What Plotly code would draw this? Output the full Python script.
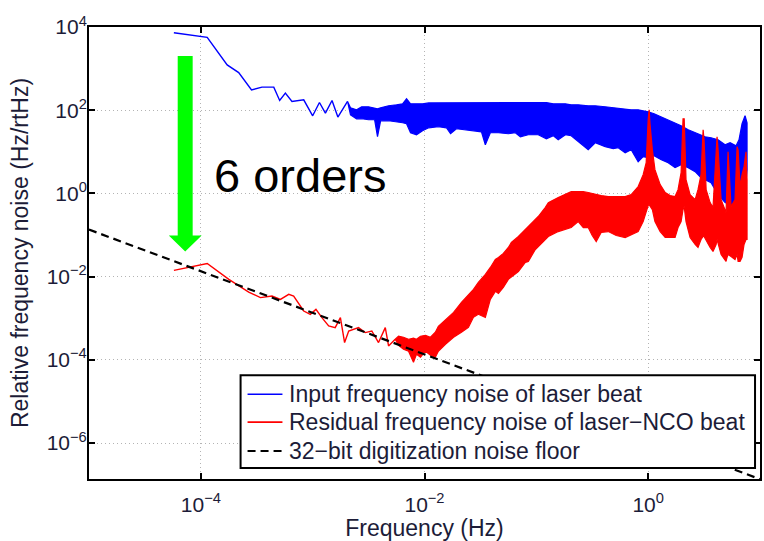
import plotly.graph_objects as go

# ---------------- data (frequency in Hz, noise in Hz/rtHz) ----------------
# Input frequency noise of laser beat: clean low-frequency part
blue_line_f = [5.74e-5, 1.14e-4, 1.72e-4, 2.18e-4, 2.84e-4, 3.52e-4, 4.49e-4, 5.07e-4,
               5.70e-4, 6.53e-4, 8.32e-4, 1.00e-3, 1.15e-3, 1.30e-3, 1.49e-3, 1.68e-3, 2.05e-3]
blue_line_v = [7300, 5660, 1227, 802, 308, 358, 358, 171,
               257, 162, 178, 73.4, 153, 85.2, 171, 68.3, 162]

# Input frequency noise: dense part, upper / lower envelope of the spectrum
blue_band_f = [2.18e-3, 2.47e-3, 2.74e-3, 3.16e-3, 3.58e-3, 3.80e-3, 4.05e-3, 4.77e-3,
               5.62e-3, 6.37e-3, 6.91e-3, 7.50e-3, 8.48e-3, 9.60e-3, 1.09e-2, 1.33e-2,
               1.57e-2, 1.71e-2, 1.93e-2, 2.23e-2, 2.74e-2, 3.23e-2, 3.50e-2, 3.88e-2,
               4.58e-2, 5.62e-2, 6.49e-2, 7.20e-2, 8.48e-2, 0.104, 0.123, 0.142,
               0.157, 0.182, 0.205, 0.237, 0.291, 0.336, 0.413, 0.487,
               0.540, 0.623, 0.705, 0.814, 0.902, 1.0, 1.13, 1.31,
               1.51, 1.74, 1.97, 2.28, 2.63, 2.97, 3.23, 3.65,
               4.22, 4.87, 5.40, 6.11, 6.49, 6.91, 7.35, 7.66]
blue_band_hi = [114, 102, 121, 121, 114, 108, 114, 128,
                135, 142, 188, 142, 142, 142, 150, 150,
                153, 150, 150, 153, 150, 150, 153, 150,
                150, 153, 150, 150, 150, 150, 153, 142,
                142, 142, 135, 135, 128, 128, 121, 114,
                114, 108, 102, 102, 96.8, 91.6, 82.0, 69.5,
                58.9, 49.9, 42.3, 33.9, 28.7, 25.7, 23.0, 21.8,
                19.5, 14.8, 16.5, 14.0, 19.5, 47.2, 73.4, 49.9]
blue_band_lo = [77.6, 62.2, 62.2, 58.9, 58.9, 23.0, 55.7, 55.7,
                52.7, 49.9, 47.2, 28.7, 25.7, 32.1, 37.8, 40.0,
                37.8, 27.2, 35.8, 33.9, 32.1, 30.3, 14.8, 28.7,
                28.7, 27.2, 28.7, 23.0, 25.7, 25.7, 20.6, 24.3,
                19.5, 25.7, 24.3, 17.5, 11.2, 16.5, 13.3, 11.9,
                12.5, 9.51, 11.2, 5.79, 7.63, 7.22, 8.06, 6.47,
                5.48, 4.16, 4.91, 4.16, 3.33, 2.39, 2.14, 1.82,
                0.936, 0.601, 0.539, 0.539, 0.482, 0.539, 0.936, 3.72]

# Residual frequency noise of laser-NCO beat: clean low-frequency part
red_line_f = [5.74e-5, 1.14e-4, 1.78e-4, 2.18e-4, 2.68e-4, 3.41e-4, 4.33e-4, 5.15e-4,
              6.11e-4, 6.76e-4, 8.32e-4, 9.53e-4, 1.07e-3, 1.21e-3, 1.39e-3, 1.59e-3,
              1.77e-3, 1.93e-3, 2.10e-3, 2.57e-3, 2.95e-3, 3.38e-3, 3.88e-3, 4.46e-3,
              4.77e-3, 5.47e-3]
red_line_v = [0.0141, 0.0207, 0.00857, 0.00615, 0.00425, 0.00312, 0.00341, 0.00284,
              0.00374, 0.00341, 0.00149, 0.00124, 0.00163, 0.00103, 6.50e-4, 5.95e-4,
              1.03e-3, 2.60e-4, 4.93e-4, 5.95e-4, 4.52e-4, 4.93e-4, 2.60e-4, 5.95e-4,
              2.15e-4, 3.12e-4]

# Residual frequency noise: dense part, upper / lower envelope
red_band_f = [5.86e-3, 6.49e-3, 7.20e-3, 7.97e-3, 8.48e-3, 9.21e-3, 1.02e-2, 1.13e-2,
              1.25e-2, 1.33e-2, 1.54e-2, 1.82e-2, 2.14e-2, 2.47e-2, 2.74e-2, 3.03e-2,
              3.50e-2, 3.88e-2, 4.30e-2, 4.58e-2, 5.07e-2, 5.62e-2, 5.98e-2, 6.91e-2,
              7.97e-2, 8.48e-2, 9.80e-2, 0.104, 0.120, 0.128, 0.157, 0.182,
              0.205, 0.237, 0.263, 0.291, 0.316, 0.343, 0.380, 0.440,
              0.518, 0.623, 0.705, 0.814, 0.902, 0.960, 1.0, 1.02,
              1.04, 1.09, 1.15, 1.28, 1.42, 1.57, 1.74, 1.85,
              1.97, 2.05, 2.10, 2.18, 2.37, 2.63, 2.79, 2.97,
              3.10, 3.16, 3.30, 3.58, 3.80, 4.05, 4.13, 4.22,
              4.49, 4.97, 5.07, 5.18, 5.29, 5.51, 5.98, 6.24,
              6.37, 6.63, 6.91, 7.20, 7.50, 7.66]
red_band_hi = [3.68e-4, 3.48e-4, 3.12e-4, 3.30e-4, 3.12e-4, 3.68e-4, 3.89e-4, 3.48e-4,
               4.59e-4, 6.40e-4, 9.41e-4, 1.38e-3, 2.41e-3, 3.74e-3, 4.93e-3, 7.26e-3,
               0.0113, 0.0166, 0.0258, 0.0289, 0.0360, 0.0501, 0.0661, 0.0920,
               0.136, 0.160, 0.235, 0.278, 0.456, 0.601, 0.793, 0.936,
               1.10, 1.10, 1.10, 1.05, 0.989, 0.936, 0.886, 0.838,
               0.838, 0.838, 0.936, 1.46, 2.82, 5.48, 58.9, 102,
               44.7, 11.2, 3.72, 1.63, 1.05, 0.886, 0.838, 1.23,
               3.15, 62.2, 62.2, 2.14, 0.936, 0.710, 1.23, 2.82,
               33.9, 19.5, 1.23, 0.601, 0.456, 6.47, 23.0, 11.2,
               0.710, 0.346, 2.14, 10.0, 3.72, 0.482, 0.710, 13.3,
               11.2, 1.46, 2.82, 4.39, 10.0, 2.14]
red_band_lo = [2.24e-4, 1.80e-4, 1.61e-4, 8.76e-5, 1.36e-4, 1.15e-4, 1.61e-4, 1.29e-4,
               1.15e-4, 1.61e-4, 2.37e-4, 3.48e-4, 4.59e-4, 6.05e-4, 1.05e-3, 1.24e-3,
               1.05e-3, 2.84e-3, 4.42e-3, 3.96e-3, 5.51e-3, 8.57e-3, 0.0101, 0.0133,
               0.0219, 0.0232, 0.0449, 0.0530, 0.0780, 0.0920, 0.121, 0.136,
               0.151, 0.211, 0.151, 0.151, 0.0973, 0.0698, 0.115, 0.121,
               0.0973, 0.0871, 0.103, 0.121, 0.211, 0.346, 0.510, 0.539,
               0.482, 0.409, 0.211, 0.121, 0.0871, 0.0871, 0.0871, 0.151,
               0.211, 0.409, 0.482, 0.211, 0.0871, 0.0592, 0.0501, 0.0780,
               0.0920, 0.0920, 0.0780, 0.0501, 0.0402, 0.0592, 0.0780, 0.0592,
               0.0341, 0.0232, 0.0289, 0.0341, 0.0322, 0.0305, 0.0258, 0.0341,
               0.0232, 0.0232, 0.0289, 0.0592, 0.0780, 0.0780]

# 32-bit digitization noise floor (straight line on log-log axes)
floor_f = [1e-5, 10]
floor_v = [0.135, 1.35e-7]

x_tick_vals = [1e-4, 1e-2, 1e0]
x_tick_text = ["10<sup>\u22124</sup>", "10<sup>\u22122</sup>", "10<sup>0</sup>"]
y_tick_vals = [1e4, 1e2, 1e0, 1e-2, 1e-4, 1e-6]
y_tick_text = ["10<sup>4</sup>", "10<sup>2</sup>", "10<sup>0</sup>",
               "10<sup>\u22122</sup>", "10<sup>\u22124</sup>", "10<sup>\u22126</sup>"]

legend_names = ["Input frequency noise of laser beat",
                "Residual frequency noise of laser\u2212NCO beat",
                "32\u2212bit digitization noise floor"]

BLUE = "#0000ff"
RED = "#ff0000"
FONT = "Liberation Sans, Arial, sans-serif"
TXT = "#1c1c38"


def band_outline(line_f, line_v, band_f, hi, lo):
    """Closed outline: joins the clean line end to the upper and lower envelopes."""
    xs = [line_f[-1]] + band_f + band_f[::-1] + [line_f[-1]]
    ys = [line_v[-1]] + hi + lo[::-1] + [line_v[-1]]
    return xs, ys


fig = go.Figure()

# blue spectrum
fig.add_trace(go.Scatter(x=blue_line_f, y=blue_line_v, mode="lines", name=legend_names[0],
                         line=dict(color=BLUE, width=1.4), showlegend=False,
                         hoverinfo="skip"))
bx, by = band_outline(blue_line_f, blue_line_v, blue_band_f, blue_band_hi, blue_band_lo)
fig.add_trace(go.Scatter(x=bx, y=by, mode="lines", fill="toself", fillcolor=BLUE,
                         line=dict(color=BLUE, width=1.2), showlegend=False,
                         hoverinfo="skip"))

# red spectrum
fig.add_trace(go.Scatter(x=red_line_f, y=red_line_v, mode="lines", name=legend_names[1],
                         line=dict(color=RED, width=1.4), showlegend=False,
                         hoverinfo="skip"))
rx, ry = band_outline(red_line_f, red_line_v, red_band_f, red_band_hi, red_band_lo)
fig.add_trace(go.Scatter(x=rx, y=ry, mode="lines", fill="toself", fillcolor=RED,
                         line=dict(color=RED, width=1.2), showlegend=False,
                         hoverinfo="skip"))

# noise floor
fig.add_trace(go.Scatter(x=floor_f, y=floor_v, mode="lines", name=legend_names[2],
                         line=dict(color="black", width=2.2, dash="8px,5px"),
                         showlegend=False, hoverinfo="skip"))

axis_common = dict(
    type="log", showline=True, linecolor="black", linewidth=2, mirror="ticks",
    ticks="inside", ticklen=6, tickwidth=1.5, tickcolor="black",
    showgrid=True, gridcolor="#b4b4b4", gridwidth=1, griddash="1px,3px",
    zeroline=False, tickmode="array",
    tickfont=dict(family=FONT, size=21, color=TXT),
    title_font=dict(family=FONT, size=23, color=TXT),
)

fig.update_xaxes(range=[-5, 1], tickvals=x_tick_vals, ticktext=x_tick_text,
                 ticklabelstandoff=6,
                 title_text="Frequency (Hz)", title_standoff=7, **axis_common)
fig.update_yaxes(range=[-6.865, 4], tickvals=y_tick_vals, ticktext=y_tick_text,
                 ticklabelstandoff=-4,
                 title_text="Relative frequency noise (Hz/rtHz)", title_standoff=12,
                 **axis_common)

# green arrow spanning the suppression
fig.add_shape(type="path", xref="paper", yref="paper",
              path="M0.1322,0.9360 L0.1545,0.9360 L0.1545,0.5386 L0.1679,0.5386 "
                   "L0.1434,0.5033 L0.1189,0.5386 L0.1322,0.5386 Z",
              fillcolor="#00ff00", line=dict(width=0))

fig.add_annotation(xref="paper", yref="paper", x=0.315, y=0.671, text="6 orders",
                   showarrow=False, xanchor="center", yanchor="middle",
                   font=dict(family=FONT, size=47, color="black"))

# legend box with line samples and labels
fig.add_shape(type="rect", xref="paper", yref="paper",
              x0=0.2259, x1=0.9926, y0=0.0243, y1=0.2296,
              fillcolor="white", line=dict(color="black", width=2), layer="above")
legend_rows = [(0.1876, BLUE, "solid", 1.6), (0.1258, RED, "solid", 1.6),
               (0.0618, "black", "8px,5px", 2.0)]
for (ly, color, dash, w), label in zip(legend_rows, legend_names):
    fig.add_shape(type="line", xref="paper", yref="paper",
                  x0=0.2363, x1=0.2883, y0=ly, y1=ly, layer="above",
                  line=dict(color=color, width=w, dash=dash))
    fig.add_annotation(xref="paper", yref="paper", x=0.2957, y=ly, text=label,
                       showarrow=False, xanchor="left", yanchor="middle",
                       font=dict(family=FONT, size=23, color=TXT))

fig.update_layout(
    width=764, height=541,
    margin=dict(l=89, r=2, t=27, b=61),
    paper_bgcolor="white", plot_bgcolor="white",
    font=dict(family=FONT, color=TXT),
    showlegend=False,
)

fig.write_html("out.html")
